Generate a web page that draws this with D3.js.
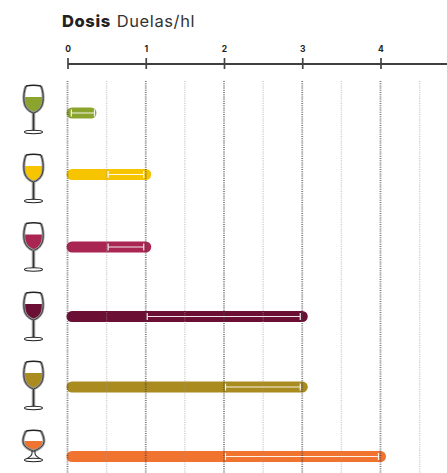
<!DOCTYPE html>
<html>
<head>
<meta charset="utf-8">
<script src="https://d3js.org/d3.v7.min.js"></script>
<style>
html, body { margin: 0; padding: 0; background: #fff; }
svg { display: block; }
text { font-family: "Inter", "Open Sans", sans-serif; }
</style>
</head>
<body>
<svg width="447" height="473"></svg>
<script>
// dose per wine type, Duelas/hl
const wines = ["Blanco joven", "Blanco", "Rosado", "Tinto", "Crianza", "Brandy"];
const doseMin = [0.03, 0.5, 0.5, 1, 2, 2];
const doseMax = [0.37, 1, 1, 3, 3, 4];
const barEnd = [0.3, 1, 1, 3, 3, 4];
const axisTicks = [0, 1, 2, 3, 4];
const minorTicks = [0.5, 1.5, 2.5, 3.5, 4.5];

const barColors = ["#8ba42d", "#f6c500", "#a92653", "#6b0f35", "#a98b1f", "#f07330"];
const rowY = [113, 174.5, 247, 316.5, 387, 456.5];
const glassTop = [86, 155, 223.5, 293, 362, 431];

const svg = d3.select("svg");
const x = d3.scaleLinear().domain([0, 4.85]).range([67.5, 447]);
const axisY = 63.5;

// title
const title = svg.append("text").attr("x", 62).attr("y", 27).style("font-size", "16.5px").style("letter-spacing", "0.6px").attr("fill", "#222");
title.append("tspan").style("font-weight", 800).text("Dosis");
title.append("tspan").attr("dx", 6).style("font-weight", 400).attr("fill", "#333").text("Duelas/hl");

// bars go under the grid, the dots show through them
const bars = svg.append("g");
bars.selectAll("rect")
    .data(wines)
    .join("rect")
    .attr("x", x(0) - 1)
    .attr("y", (d, i) => rowY[i] - 5.5)
    .attr("width", (d, i) => x(barEnd[i]) - x(0) + 6.5)
    .attr("height", 11)
    .attr("rx", 5.5)
    .attr("fill", (d, i) => barColors[i]);

// grid
const grid = svg.append("g");
grid.selectAll(".major")
    .data(axisTicks)
    .join("line")
    .attr("class", "major")
    .attr("x1", d => x(d)).attr("x2", d => x(d))
    .attr("y1", 81).attr("y2", 473)
    .attr("stroke", "#444")
    .attr("stroke-width", 1.8)
    .attr("stroke-dasharray", "1 1.2")
    .attr("opacity", 0.7);
grid.selectAll(".minor")
    .data(minorTicks)
    .join("line")
    .attr("class", "minor")
    .attr("x1", d => x(d)).attr("x2", d => x(d))
    .attr("y1", 81).attr("y2", 473)
    .attr("stroke", "#999")
    .attr("stroke-width", 1.4)
    .attr("stroke-dasharray", "1 1.2")
    .attr("opacity", 0.5);

// whiskers
const whisk = svg.append("g").attr("stroke", "#fff").attr("opacity", 0.9);
wines.forEach(function (w, i) {
    const lo = x(doseMin[i]) + 1.5;
    const hi = x(doseMax[i]) - 2;
    whisk.append("line").attr("x1", lo).attr("x2", hi).attr("y1", rowY[i]).attr("y2", rowY[i]).attr("stroke-width", 1);
    [lo, hi].forEach(function (p) {
        whisk.append("line").attr("x1", p).attr("x2", p)
            .attr("y1", rowY[i] - 3.5).attr("y2", rowY[i] + 3.5).attr("stroke-width", 1.2);
    });
});

// axis
const axis = svg.append("g")
    .attr("transform", "translate(0," + axisY + ")")
    .call(d3.axisTop(x).tickValues(axisTicks).tickFormat(d3.format("d")).tickSizeOuter(0));
axis.select(".domain").attr("stroke", "#000").attr("stroke-width", 1.5);
axis.selectAll(".tick line").attr("y1", -5.5).attr("y2", 5.5).attr("stroke", "#444").attr("stroke-width", 1.7);
axis.selectAll(".tick text").attr("y", -11.5).attr("dy", 0).attr("fill", "#222")
    .style("font-size", "8.5px").style("font-weight", 700);

// glasses
const cx = 33.5;
const winePath = "M-9.4 0 C-9.9 9.5 -6 15 0 15.5 C6 15 9.9 9.5 9.4 0 Z";
const bowlPath = "M-7.5 0 C-9.5 5 -10 10 -9.5 15 C-9 21 -5 25.5 0 27 C5 25.5 9 21 9.5 15 C10 10 9.5 5 7.5 0";
const brandyBowl = "M-7.5 0 C-9 3 -10.5 6 -10.5 10 C-10.5 15 -5 18.5 0 20 C5 18.5 10.5 15 10.5 10 C10.5 6 9 3 7.5 0";
const brandyWine = "M-9 0 C-9.5 6 -5 8.7 0 8.7 C5 8.7 9.5 6 9 0 Z";

function drawGlass(i) {
    const brandy = i === wines.length - 1;
    const g = svg.append("g").attr("transform", "translate(" + cx + "," + glassTop[i] + ")");
    const bowl = brandy ? brandyBowl : bowlPath;
    const bowlEnd = brandy ? 20 : 27;
    const footY = brandy ? 29 : 46;

    // wine
    g.append("path")
        .attr("d", brandy ? brandyWine : winePath)
        .attr("transform", "translate(0," + (brandy ? 10 : 11) + ")")
        .attr("fill", barColors[i]);
    // grey glass edge
    g.append("path").attr("d", bowl).attr("fill", "none").attr("stroke", "#999").attr("stroke-width", 2.8);
    g.append("path").attr("d", bowl).attr("fill", "none").attr("stroke", "#222").attr("stroke-width", 0.8);
    // rim
    g.append("path").attr("d", "M-7.5 0 Q0 -1.6 7.5 0").attr("fill", "none").attr("stroke", "#222").attr("stroke-width", 1.5);
    if (brandy) {
        g.append("path").attr("d", "M-1.5 " + bowlEnd + " C-1 23 -1.5 25 -7 28 M1.5 " + bowlEnd + " C1 23 1.5 25 7 28")
            .attr("fill", "none").attr("stroke", "#333").attr("stroke-width", 1.2);
    } else {
        // stem
        g.append("line").attr("x1", 0).attr("x2", 0).attr("y1", bowlEnd).attr("y2", footY)
            .attr("stroke", "#aaa").attr("stroke-width", 3.6);
        g.append("line").attr("x1", 0).attr("x2", 0).attr("y1", bowlEnd).attr("y2", footY)
            .attr("stroke", "#333").attr("stroke-width", 1.5);
    }
    // foot
    g.append("ellipse").attr("cx", 0).attr("cy", footY).attr("rx", 9).attr("ry", 1.7)
        .attr("fill", "#fff").attr("stroke", "#222").attr("stroke-width", 1.1);
}
wines.forEach(function (w, i) { drawGlass(i); });
</script>
</body>
</html>
